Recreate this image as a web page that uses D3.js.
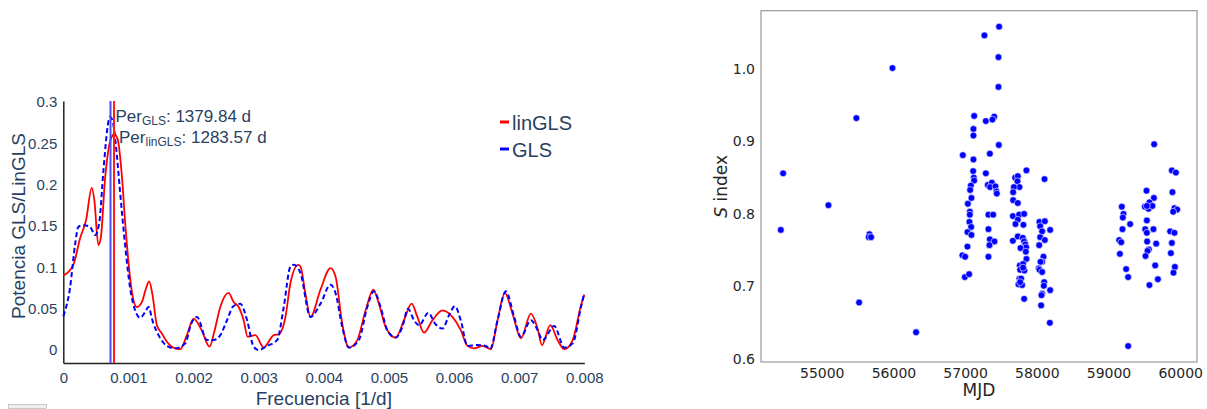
<!DOCTYPE html>
<html>
<head>
<meta charset="utf-8">
<script src="https://cdn.jsdelivr.net/npm/d3@7"></script>
<style>
  body { margin: 0; background: #fff; }
  svg { display: block; }
</style>
</head>
<body>
<div id="chart"></div>
<script>
// periodogram: linGLS (red) and GLS (blue)
const linglsFreq = [0,0.000154,0.000257,0.000349,0.000437,0.000477,0.000538,0.000575,0.000642,0.000718,0.00078,0.000831,0.000898,0.000949,0.001,0.001052,0.001129,0.001206,0.001272,0.001318,0.001369,0.001437,0.001514,0.001591,0.001718,0.001795,0.001898,0.002,0.002118,0.002246,0.002318,0.002411,0.002538,0.002615,0.002692,0.002769,0.002831,0.00295,0.003077,0.003231,0.003308,0.003411,0.003488,0.003606,0.003642,0.003718,0.003795,0.003949,0.004103,0.00418,0.004283,0.004385,0.004514,0.004642,0.00476,0.004846,0.004949,0.005103,0.005231,0.005349,0.005437,0.005538,0.005668,0.005822,0.005975,0.006103,0.006206,0.006308,0.006437,0.006565,0.006668,0.00678,0.006898,0.007026,0.00718,0.007283,0.007349,0.007477,0.007591,0.007692,0.007822,0.007949,0.008];
const linglsPower = [0.090,0.103,0.135,0.157,0.196,0.181,0.127,0.135,0.208,0.252,0.261,0.256,0.212,0.155,0.107,0.071,0.052,0.058,0.075,0.083,0.067,0.030,0.020,0.010,0.002,0.001,0.018,0.038,0.025,0.004,0.022,0.052,0.069,0.058,0.052,0.036,0.016,0.018,0.003,0.018,0.019,0.040,0.081,0.103,0.101,0.068,0.040,0.073,0.099,0.089,0.032,0.003,0.012,0.048,0.073,0.056,0.028,0.015,0.036,0.056,0.040,0.021,0.036,0.048,0.040,0.024,0.005,0.002,0.005,0.001,0.036,0.069,0.044,0.014,0.044,0.026,0.006,0.030,0.012,0.001,0.012,0.054,0.067];

const glsFreq = [0,0.000103,0.00018,0.000231,0.000308,0.000411,0.000488,0.000554,0.000615,0.000692,0.000718,0.00076,0.000822,0.000872,0.000949,0.001026,0.001103,0.00118,0.001257,0.001308,0.001375,0.001462,0.001591,0.001718,0.001872,0.001965,0.002052,0.002206,0.002308,0.002411,0.002514,0.002611,0.002718,0.002822,0.002923,0.003,0.003129,0.003283,0.003385,0.003488,0.003538,0.003642,0.003795,0.003949,0.004103,0.00418,0.004283,0.004385,0.004538,0.004668,0.004769,0.004872,0.004975,0.005103,0.005206,0.005292,0.005385,0.005462,0.005606,0.005708,0.005822,0.005923,0.006011,0.006103,0.006206,0.00636,0.006488,0.006554,0.006668,0.006795,0.006923,0.007026,0.00718,0.007283,0.00736,0.007538,0.007692,0.007822,0.007949,0.008];
const glsPower = [0.041,0.075,0.127,0.149,0.151,0.149,0.139,0.155,0.216,0.276,0.282,0.276,0.236,0.191,0.127,0.075,0.048,0.039,0.046,0.052,0.034,0.018,0.005,0.002,0.008,0.032,0.040,0.012,0.012,0.018,0.036,0.053,0.056,0.036,0.004,0.000,0.005,0.012,0.052,0.101,0.103,0.093,0.040,0.056,0.079,0.069,0.028,0.003,0.012,0.052,0.071,0.052,0.024,0.015,0.028,0.050,0.036,0.030,0.045,0.032,0.026,0.042,0.053,0.036,0.005,0.006,0.005,0.001,0.036,0.071,0.040,0.016,0.036,0.024,0.012,0.029,0.003,0.008,0.052,0.069];

const perGLS = 1379.84;
const perLinGLS = 1283.57;

const freqTicks = [0, 0.001, 0.002, 0.003, 0.004, 0.005, 0.006, 0.007, 0.008];
const powerTicks = [0, 0.05, 0.1, 0.15, 0.2, 0.25, 0.3];

// S index time series
const mjd = [54429,54461,55093,55483,55521,55665,55656,55688,55986,56316,
  56968,57116,57126,57116,57116,57112,57121,57126,57080,57070,57088,57038,57066,57066,57060,57084,57032,57088,57032,56962,57000,56996,57056,
  57474,57269,57465,57465,57405,57289,57381,57470,57345,57289,57317,57373,57349,57423,57437,57442,57325,57391,57325,57345,57409,57339,57325,
  57855,57698,57735,57730,57758,57680,57670,57670,57735,57666,57753,57823,57735,57702,57813,57666,57735,57805,57823,57841,57851,57772,57847,57855,57763,57809,57767,57827,57809,57758,57781,57744,57795,57767,57823,
  58107,58037,58112,58047,58186,58074,58047,58112,58033,58093,58074,58051,58028,58037,58074,58102,58098,58186,58074,58065,58060,58182,
  59637,59884,59940,59530,59892,59633,59571,59507,59558,59613,59535,59186,59209,59200,59920,59958,59902,59535,59302,59195,59512,59535,59627,59860,59920,59149,59177,59539,59665,59884,59563,59544,59516,59159,59870,59651,59926,59906,59246,59274,59689,59571,59274];
const sIndex = [0.778,0.856,0.812,0.932,0.678,0.772,0.768,0.768,1.001,0.637,
  0.881,0.875,0.935,0.917,0.908,0.859,0.850,0.846,0.839,0.833,0.822,0.814,0.803,0.799,0.789,0.782,0.775,0.771,0.755,0.743,0.741,0.713,0.717,
  1.058,1.046,1.016,0.975,0.934,0.928,0.930,0.895,0.883,0.856,0.840,0.843,0.837,0.838,0.831,0.828,0.799,0.799,0.779,0.765,0.762,0.757,0.741,
  0.860,0.850,0.852,0.845,0.837,0.837,0.830,0.819,0.815,0.797,0.799,0.800,0.792,0.786,0.785,0.763,0.769,0.767,0.762,0.758,0.754,0.753,0.748,0.738,0.729,0.731,0.723,0.722,0.726,0.711,0.711,0.703,0.702,0.706,0.683,
  0.848,0.789,0.790,0.783,0.778,0.776,0.768,0.764,0.757,0.741,0.734,0.734,0.725,0.723,0.720,0.706,0.701,0.695,0.690,0.688,0.674,0.650,
  0.896,0.860,0.857,0.832,0.830,0.822,0.816,0.810,0.807,0.811,0.811,0.810,0.800,0.795,0.808,0.806,0.803,0.791,0.786,0.779,0.779,0.774,0.779,0.776,0.774,0.764,0.761,0.762,0.759,0.760,0.751,0.749,0.742,0.745,0.746,0.729,0.727,0.719,0.724,0.713,0.710,0.702,0.618];

const mjdTicks = [55000, 56000, 57000, 58000, 59000, 60000];
const sTicks = [0.6, 0.7, 0.8, 0.9, 1.0];

const width = 1207;
const height = 409;

const svg = d3.select("#chart")
  .append("svg")
  .attr("width", width)
  .attr("height", height);

// ---------- left: periodogram ----------
const plotlyText = "#2a3f5f";
const leftFont = "'Liberation Sans', Arial, sans-serif";

const x = d3.scaleLinear().domain([0, 0.008]).range([63.3, 584.3]);
const y = d3.scaleLinear().domain([-0.0157, 0.3012]).range([363, 101]);

const left = svg.append("g");

const xAxis = left.append("g")
  .attr("transform", "translate(0,363)")
  .call(d3.axisBottom(x).tickValues(freqTicks).tickSize(0).tickSizeOuter(0).tickPadding(9)
    .tickFormat(d => d === 0 ? "0" : d3.format(".3f")(d)));

const yAxis = left.append("g")
  .attr("transform", "translate(63.3,0)")
  .call(d3.axisLeft(y).tickValues(powerTicks).tickSize(0).tickSizeOuter(0).tickPadding(6)
    .tickFormat(d => String(+d.toFixed(2))));

[xAxis, yAxis].forEach(a => {
  a.select(".domain").attr("stroke", "#222").attr("stroke-width", 1.5);
  a.selectAll("text").attr("fill", plotlyText).style("font-family", leftFont).style("font-size", "15px");
});

const lingls = linglsFreq.map((f, i) => [f, linglsPower[i]]);
const gls = glsFreq.map((f, i) => [f, glsPower[i]]);

const line = d3.line()
  .x(d => x(d[0]))
  .y(d => y(d[1]))
  .curve(d3.curveMonotoneX);

left.append("path")
  .datum(lingls)
  .attr("d", line)
  .attr("fill", "none")
  .attr("stroke", "red")
  .attr("stroke-width", 1.8);

left.append("path")
  .datum(gls)
  .attr("d", line)
  .attr("fill", "none")
  .attr("stroke", "#0000ff")
  .attr("stroke-width", 2)
  .attr("stroke-dasharray", "5,3");

// period markers
const markers = [
  { f: 1 / perGLS, color: "#4a4aff", label: "GLS", value: perGLS, ty: 121.7 },
  { f: 1 / perLinGLS, color: "#ff1a1a", label: "linGLS", value: perLinGLS, ty: 143.3 }
];

markers.forEach(m => {
  left.append("line")
    .attr("x1", x(m.f)).attr("x2", x(m.f))
    .attr("y1", y.range()[1]).attr("y2", y.range()[0])
    .attr("stroke", m.color)
    .attr("stroke-width", 2);
});

markers.forEach(m => {
  const t = left.append("text")
    .attr("x", x(m.f) + 5)
    .attr("y", m.ty)
    .attr("fill", plotlyText)
    .style("font-family", leftFont)
    .style("font-size", "17px");
  t.append("tspan").text("Per");
  t.append("tspan").attr("dy", 3).style("font-size", "12px").text(m.label);
  t.append("tspan").attr("dy", -3).text(": " + m.value.toFixed(2) + " d");
});

// legend
const legend = [
  { name: "linGLS", color: "red", y: 122 },
  { name: "GLS", color: "#0000ff", y: 149 }
];
legend.forEach(l => {
  left.append("line")
    .attr("x1", 500).attr("x2", 509)
    .attr("y1", l.y).attr("y2", l.y)
    .attr("stroke", l.color)
    .attr("stroke-width", 3);
  left.append("text")
    .attr("x", 512)
    .attr("y", l.y + 8)
    .attr("fill", plotlyText)
    .style("font-family", leftFont)
    .style("font-size", "20px")
    .text(l.name);
});

left.append("text")
  .attr("x", (x.range()[0] + x.range()[1]) / 2)
  .attr("y", 405)
  .attr("text-anchor", "middle")
  .attr("fill", plotlyText)
  .style("font-family", leftFont)
  .style("font-size", "19px")
  .text("Frecuencia [1/d]");

left.append("text")
  .attr("transform", `translate(25,${(y(0) + y(0.3)) / 2}) rotate(-90)`)
  .attr("text-anchor", "middle")
  .attr("fill", plotlyText)
  .style("font-family", leftFont)
  .style("font-size", "19px")
  .text("Potencia GLS/LinGLS");

// little grey box in the corner
left.append("rect")
  .attr("x", 8.5).attr("y", 404.5)
  .attr("width", 38).attr("height", 4)
  .attr("fill", "#eeeeee")
  .attr("stroke", "#aaa")
  .attr("stroke-width", 0.6);

// ---------- right: S index vs MJD ----------
const rightFont = "'DejaVu Sans', sans-serif";
const rightText = "#262626";

const pad = (ext) => {
  const m = (ext[1] - ext[0]) * 0.05;
  return [ext[0] - m, ext[1] + m];
};

const xr = d3.scaleLinear().domain(pad(d3.extent(mjd))).range([761, 1197]);
const yr = d3.scaleLinear().domain(pad(d3.extent(sIndex))).range([362, 10.7]);

const right = svg.append("g");

right.append("rect")
  .attr("x", 761).attr("y", 10.7)
  .attr("width", 1197 - 761).attr("height", 362 - 10.7)
  .attr("fill", "none")
  .attr("stroke", "#999")
  .attr("stroke-width", 1.2);

const xrAxis = right.append("g")
  .attr("transform", "translate(0,362)")
  .call(d3.axisBottom(xr).tickValues(mjdTicks).tickSize(0).tickPadding(6).tickFormat(d3.format("d")));

const yrAxis = right.append("g")
  .attr("transform", "translate(761,0)")
  .call(d3.axisLeft(yr).tickValues(sTicks).tickSize(0).tickPadding(6).tickFormat(d3.format(".1f")));

[xrAxis, yrAxis].forEach(a => {
  a.select(".domain").remove();
  a.selectAll("text").attr("fill", rightText).style("font-family", rightFont).style("font-size", "14px");
});

right.append("g")
  .selectAll("circle")
  .data(mjd.map((m, i) => [m, sIndex[i]]))
  .join("circle")
  .attr("cx", d => xr(d[0]))
  .attr("cy", d => yr(d[1]))
  .attr("r", 3.4)
  .attr("fill", "#0000ff")
  .attr("stroke", "#fff")
  .attr("stroke-width", 0.6);

right.append("text")
  .attr("x", (761 + 1197) / 2)
  .attr("y", 396)
  .attr("text-anchor", "middle")
  .attr("fill", rightText)
  .style("font-family", rightFont)
  .style("font-size", "17px")
  .text("MJD");

const ylab = right.append("text")
  .attr("transform", `translate(727,${(10.7 + 362) / 2}) rotate(-90)`)
  .attr("text-anchor", "middle")
  .attr("fill", rightText)
  .style("font-family", rightFont)
  .style("font-size", "17px");
ylab.append("tspan").style("font-style", "italic").text("S");
ylab.append("tspan").text(" index");
</script>
</body>
</html>
